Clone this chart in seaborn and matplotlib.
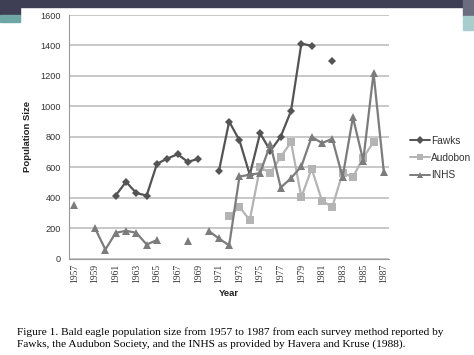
import numpy as np
import pandas as pd
import matplotlib.pyplot as plt
import matplotlib.patches as mpatches
import seaborn as sns

# values (NaN = no survey that year)
years = list(range(1957, 1988))
fawks = [np.nan, np.nan, np.nan, np.nan, 414, 504, 430, 414, 622, 657,
         685, 635, 655, np.nan, 572, 900, 776, 550, 823, 707,
         801, 970, 1412, 1398, np.nan, 1296, np.nan, np.nan, np.nan, np.nan, np.nan]
audubon = [np.nan] * 15 + [279, 338, 253, 600, 561, 668, 765, 403, 590, 380,
                           338, 563, 535, 662, 766, np.nan]
inhs = [352, np.nan, 198, 59, 169, 182, 169, 92, 121, np.nan,
        np.nan, 114, np.nan, 182, 132, 86, 539, 550, 561, 752,
        466, 528, 605, 799, 759, 786, 535, 928, 644, 1219, 568]

series = {'Fawks': fawks, 'Audobon': audubon, 'INHS': inhs}
colors = {'Fawks': '#545454', 'Audobon': '#b4b4b4', 'INHS': '#7c7c7c'}
markers = {'Fawks': 'D', 'Audobon': 's', 'INHS': '^'}
msizes = {'Fawks': 4.3, 'Audobon': 5.5, 'INHS': 5.5}

# long form, with a segment id so gaps stay as gaps
rows = []
for name, vals in series.items():
    seg = 0
    for y, v in zip(years, vals):
        if np.isnan(v):
            seg += 1
            continue
        rows.append({'year': y, 'size': v, 'survey': name, 'seg': f'{name}{seg}'})
df = pd.DataFrame(rows)

sns.set_style('white')
plt.rcParams['font.family'] = ['Liberation Sans', 'DejaVu Sans']

fig = plt.figure(figsize=(4.74, 3.55), dpi=100)
ax = fig.add_axes([0.1462, 0.2718, 0.6745, 0.6859])

for name in series:
    sns.lineplot(data=df[df['survey'] == name], x='year', y='size', units='seg',
                 estimator=None, color=colors[name], marker=markers[name],
                 linewidth=1.6, markersize=msizes[name], markeredgewidth=0,
                 ax=ax, legend=False)

ax.set_xlim(1956.5, 1987.5)
ax.set_ylim(0, 1600)
ax.set_yticks(range(0, 1601, 200))
ax.yaxis.grid(True, color='#c4c4c4', linewidth=1.3)
ax.set_axisbelow(True)
for s in ['top', 'right']:
    ax.spines[s].set_visible(False)
ax.spines['left'].set_color('#9a9a9a')
ax.spines['bottom'].set_color('#9a9a9a')

ax.set_xticks(range(1957, 1988, 2))
ax.set_xticklabels([str(y) for y in range(1957, 1988, 2)], rotation=90,
                   family=['Liberation Serif'], fontsize=6.9, color='#333333')
ax.set_xticks(np.arange(1956.5, 1988, 1), minor=True)
ax.tick_params(axis='x', which='major', length=0, pad=4)
ax.tick_params(axis='x', which='minor', length=3, color='#9a9a9a', direction='out')
ax.tick_params(axis='y', length=3, color='#9a9a9a', direction='out',
               labelsize=6.6, labelcolor='#333333', pad=3)

ax.set_xlabel('Year', fontsize=6.8, fontweight='bold', color='#222222', labelpad=4)
ax.set_ylabel('Population Size', fontsize=6.8, fontweight='bold', color='#222222', labelpad=6)

handles = [plt.Line2D([], [], color=colors[n], marker=markers[n], markersize=msizes[n] - 0.5,
                      markeredgewidth=0, linewidth=1.4) for n in series]
fig.legend(handles, list(series), loc='center left', bbox_to_anchor=(0.845, 0.555),
           frameon=False, fontsize=7.3, handlelength=2.0, handletextpad=0.1,
           labelspacing=0.7, labelcolor='#333333')

caption = ('Figure 1. Bald eagle population size from 1957 to 1987 from each survey method reported by\n'
           'Fawks, the Audubon Society, and the INHS as provided by Havera and Kruse (1988).')
fig.text(0.035, 0.048, caption, family=['Liberation Serif'], fontsize=8.2,
         color='black', linespacing=1.4, va='center', ha='left')

# slide header decoration
fig.patches.append(mpatches.Rectangle((0, 1 - 7 / 355), 1, 7 / 355, transform=fig.transFigure,
                                      color='#3e3e54', zorder=0))
fig.patches.append(mpatches.Rectangle((0, 1 - 15 / 355), 20 / 474, 15 / 355, transform=fig.transFigure,
                                      color='#3e3e54', zorder=0))
fig.patches.append(mpatches.Rectangle((0, 1 - 22 / 355), 20 / 474, 7 / 355, transform=fig.transFigure,
                                      color='#6fa6a6', zorder=0))
fig.patches.append(mpatches.Rectangle((463 / 474, 1 - 16 / 355), 11 / 474, 16 / 355, transform=fig.transFigure,
                                      color='#6c6c80', zorder=0))
fig.patches.append(mpatches.Rectangle((463 / 474, 1 - 30 / 355), 11 / 474, 14 / 355, transform=fig.transFigure,
                                      color='#a9cccc', zorder=0))

fig.savefig('out.png', dpi=100)
